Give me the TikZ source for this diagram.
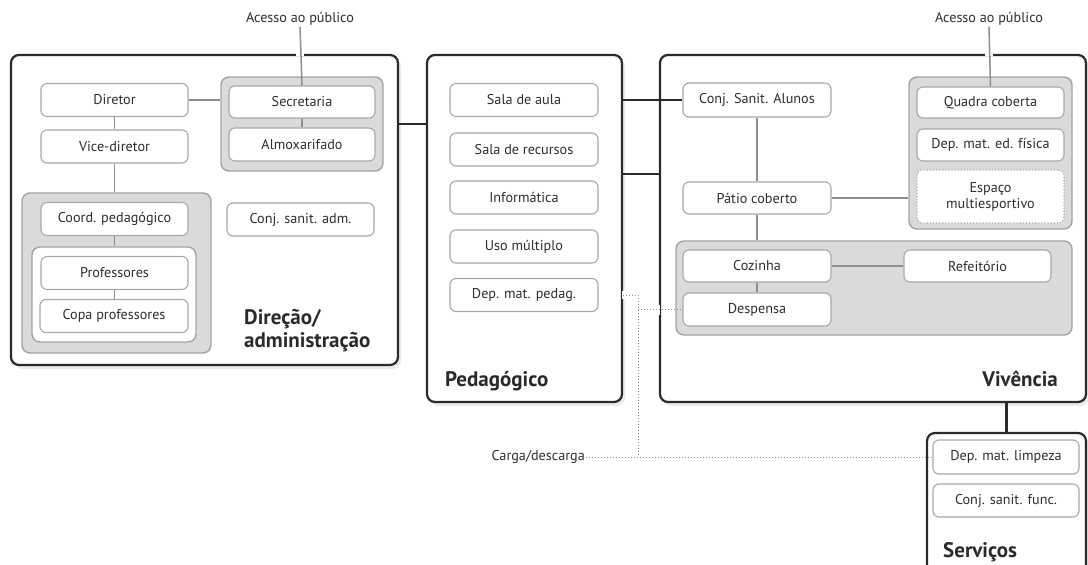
\documentclass[tikz,border=0pt]{standalone}
\usepackage{fontspec}
\setmainfont{PT Sans}
\usetikzlibrary{shadows}

\definecolor{edge}{HTML}{2A2A2A}
\definecolor{boxgray}{HTML}{A8A8A8}
\definecolor{grpfill}{HTML}{DADADA}
\definecolor{grpline}{HTML}{A3A3A3}
\definecolor{linkgray}{HTML}{8E8E8E}
\definecolor{ink}{HTML}{2E2E2E}

\newcommand{\roomfont}{\fontsize{14.2}{16}\selectfont}
\newcommand{\titlefont}{\bfseries\fontsize{21}{23}\selectfont}

\tikzset{
  sector/.style={draw=edge, line width=2.2pt, rounded corners=8pt, fill=white,
    drop shadow={shadow xshift=3pt, shadow yshift=-4pt, opacity=0.15}},
  group/.style={draw=grpline, line width=1.4pt, rounded corners=8pt, fill=grpfill},
  room/.style={draw=boxgray, line width=1.1pt, rounded corners=6pt, fill=white,
    minimum width=147pt, minimum height=33pt, inner sep=0pt, text=ink,
    font=\roomfont},
  note/.style={text=ink, font=\roomfont, inner sep=1pt},
  title/.style={text=edge, font=\titlefont, inner sep=0pt},
  link/.style={draw=linkgray, line width=1.5pt},
  mainlink/.style={draw=edge, line width=2.2pt},
  cargo/.style={draw=linkgray, dotted, line width=1pt},
  gapline/.style={draw=white, line width=4pt}
}

\begin{document}
\begin{tikzpicture}[x=1pt, y=-1pt]
\useasboundingbox (0,0) rectangle (1088,565);

% sectors
\node[sector, minimum width=387pt, minimum height=310pt] (dir) at (204.5,210) {};
\node[sector, minimum width=195pt, minimum height=347pt] (ped) at (524.5,228.5) {};
\node[sector, minimum width=426pt, minimum height=347pt] (viv) at (873,228.5) {};
\node[sector, minimum width=159pt, minimum height=174pt] (serv) at (1006.5,520) {};

% groups
\node[group, minimum width=162pt, minimum height=94pt] (secgroup) at (302,124) {};
\node[group, minimum width=189pt, minimum height=160pt] (coordgroup) at (116.5,273) {};
\node[group, fill=white, minimum width=164pt, minimum height=95pt] (profgroup) at (114,294.5) {};
\node[group, minimum width=163pt, minimum height=152pt] (sportgroup) at (990.5,153) {};
\node[group, minimum width=396pt, minimum height=94pt] (kitchgroup) at (874,288) {};

% outside labels
\node[note] (acc1) at (300,19) {Acesso ao público};
\node[note] (acc2) at (989,19) {Acesso ao público};
\node[note, anchor=east] (carga) at (586,457) {Carga/descarga};

% rooms
\node[room] (diretor) at (114.5,100) {Diretor};
\node[room] (vice) at (114.5,146.5) {Vice-diretor};
\node[room, minimum width=146pt, minimum height=32pt] (secretaria) at (302,102) {Secretaria};
\node[room, minimum width=146pt] (almox) at (302,144.5) {Almoxarifado};
\node[room] (coord) at (114.5,219) {Coord. pedagógico};
\node[room] (prof) at (114.5,273) {Professores};
\node[room, minimum width=148pt] (copa) at (114,316) {Copa professores};
\node[room] (sanadm) at (300.5,219.5) {Conj. sanit. adm.};

\node[room, minimum width=148pt] (aula) at (524,100) {Sala de aula};
\node[room, minimum width=148pt] (recursos) at (524,149.5) {Sala de recursos};
\node[room, minimum width=148pt] (info) at (524,197.5) {Informática};
\node[room, minimum width=148pt] (multiplo) at (524,246.5) {Uso múltiplo};
\node[room, minimum width=148pt] (depped) at (524,295) {Dep. mat. pedag.};

\node[room, minimum width=148pt, minimum height=34pt] (alunos) at (757,100) {Conj. Sanit. Alunos};
\node[room, minimum width=148pt, minimum height=32pt] (patio) at (757,198) {Pátio coberto};
\node[room, minimum height=31pt] (quadra) at (990.5,102.5) {Quadra coberta};
\node[room, minimum height=32pt] (edfis) at (990.5,145) {Dep. mat. ed. física};
\node[room, dotted, minimum height=53pt, align=center] (espaco) at (990.5,196.5)
  {Espaço\\multiesportivo};
\node[room, minimum width=148pt, minimum height=32pt] (cozinha) at (757,266) {Cozinha};
\node[room, minimum height=32pt] (refeitorio) at (977.5,266) {Refeitório};
\node[room, minimum width=148pt] (despensa) at (757,309.5) {Despensa};

\node[room, minimum width=146pt, minimum height=34pt] (limpeza) at (1006,457) {Dep. mat. limpeza};
\node[room, minimum width=146pt] (func) at (1006,500.5) {Conj. sanit. func.};

% titles
\node[title, anchor=north west, align=left] (dirtitle) at (244,309) {Direção/\\administração};
\node[title, anchor=base west] (pedtitle) at (445,386) {Pedagógico};
\node[title, anchor=base east] (vivtitle) at (1058,386) {Vivência};
\node[title, anchor=base west] (servtitle) at (943,557) {Serviços};

% links inside the sectors
\draw[gapline] ([xshift=-4pt]acc1.south |- dir.north) -- ([xshift=4pt]acc1.south |- dir.north);
\draw[gapline] ([xshift=-4pt]acc2.south |- viv.north) -- ([xshift=4pt]acc2.south |- viv.north);
\draw[link] (acc1.south) -- (secretaria.north);
\draw[link] (acc2.south) -- (quadra.north);
\draw[link] (diretor.east) -- (diretor.east -| secgroup.west);
\draw[link] (diretor) -- (vice);
\draw[link] (vice.south) -- (vice.south |- coordgroup.north);
\draw[link] (coord.south) -- (coord.south |- profgroup.north);
\draw[link] (prof) -- (copa.north -| prof);
\draw[link] (secretaria) -- (almox);
\draw[link] (alunos) -- (patio);
\draw[link] (patio.south) -- (patio.south |- kitchgroup.north);
\draw[link] (patio.east) -- (patio.east -| sportgroup.west);
\draw[link] (cozinha) -- (refeitorio);
\draw[link] (cozinha.south) -- (despensa.north);

% links between the sectors
\draw[mainlink] (secgroup -| dir.east) -- (secgroup -| ped.west);
\draw[mainlink] (alunos -| ped.east) -- (alunos.west);
\draw[mainlink] ([yshift=54.5pt]ped.east) coordinate (pv) -- (pv -| viv.west);
\draw[mainlink] (serv.north |- viv.south) -- (serv.north);

% loading
\coordinate (drop) at (638,0);
\draw[gapline, line width=3pt] ([yshift=4pt]depped -| ped.east) -- ([yshift=-4pt]depped -| ped.east);
\draw[gapline, line width=3pt] ([yshift=5pt]despensa -| viv.west) -- ([yshift=-5pt]despensa -| viv.west);
\draw[cargo] (depped -| ped.east) -| (drop |- limpeza.west);
\draw[cargo] (drop |- despensa) -- (despensa.west);
\draw[cargo] (carga.east) -- (limpeza.west);

\end{tikzpicture}
\end{document}
